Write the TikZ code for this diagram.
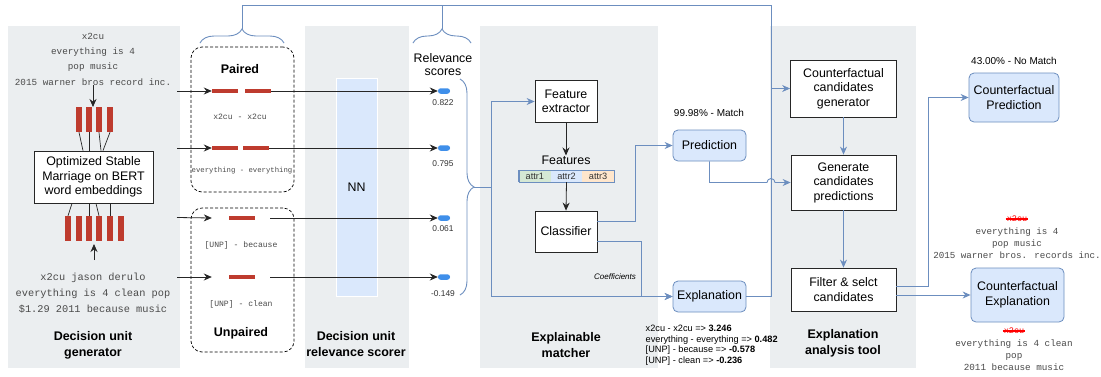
\documentclass[tikz,border=0pt]{standalone}
\usepackage{fontspec}
\setmainfont{Liberation Sans}
\newfontfamily\monof{Liberation Mono}
\usetikzlibrary{arrows.meta,decorations.pathreplacing}
\definecolor{panelgray}{HTML}{EBEEF0}
\definecolor{barred}{HTML}{BE3B2E}
\definecolor{lineblue}{HTML}{6C8EBF}
\definecolor{fillblue}{HTML}{DAE8FC}
\definecolor{pillblue}{HTML}{3F8FEA}
\definecolor{textgray}{HTML}{4A4A4A}
\definecolor{attrgreen}{HTML}{D5E8D4}
\definecolor{attrorange}{HTML}{FFE6CC}
\newcommand\myfs[2]{\fontsize{#1}{#2}\selectfont}
\begin{document}
\begin{tikzpicture}[x=1pt,y=-1pt,
  panel/.style={fill=panelgray,draw=none},
  whitebox/.style={draw=black!85,line width=0.8pt,fill=white,align=center,inner sep=0pt,font=\myfs{12.4}{14.5}},
  bluebox/.style={draw=lineblue,line width=0.8pt,fill=fillblue,rounded corners=5pt,align=center,inner sep=0pt,font=\myfs{12.4}{15}},
  vbar/.style={fill=barred,draw=none,minimum width=5.5pt,minimum height=25pt,inner sep=0pt},
  hbar/.style={fill=barred,draw=none,minimum width=26pt,minimum height=4.5pt,inner sep=0pt},
  pill/.style={fill=pillblue,draw=none,rounded corners=2.6pt,minimum width=12pt,minimum height=5.5pt,inner sep=0pt},
  monotxt/.style={font=\monof\myfs{9.3}{15.3},text=textgray,align=center,inner sep=0pt},
  smallmono/.style={font=\monof\myfs{8.1}{10},text=textgray,inner sep=0pt},
  scoretxt/.style={font=\myfs{8.4}{10},text=black!80,inner sep=0pt},
  paneltitle/.style={font=\bfseries\myfs{12.5}{16},align=center,inner sep=0pt},
  groupbox/.style={draw=black,dash pattern=on 3pt off 2pt,rounded corners=11pt,line width=0.7pt,inner sep=0pt,minimum width=103pt},
  karrow/.style={-{Stealth[length=8pt,width=7pt]},line width=0.8pt,draw=black!85},
  kline/.style={line width=0.7pt,draw=black!85},
  barrow/.style={-{Stealth[length=8pt,width=7pt]},line width=0.9pt,draw=lineblue},
  bline/.style={line width=0.9pt,draw=lineblue},
  bracestyle/.style={decorate,decoration={brace,amplitude=14pt},line width=0.9pt,draw=lineblue},
  attrcell/.style={minimum width=31.7pt,minimum height=12pt,inner sep=0pt,font=\myfs{9.2}{10},text=black!80},
]
\fill[white] (0,0) rectangle (1101,376);
\useasboundingbox (0,0) rectangle (1101,376);

% panels
\fill[panel] (8,26) rectangle (180,368);
\fill[panel] (305,26) rectangle (409,368);
\fill[panel] (480,26) rectangle (658,368);
\fill[panel] (770,26) rectangle (916,368);

% ---------- Decision unit generator ----------
\node[monotxt] (toptext) at (93,59) {x2cu\\everything is 4\\pop music\\2015 warner bros record inc.};
\node[monotxt,font=\monof\myfs{10.3}{16}] (bottext) at (93,293) {x2cu jason derulo\\everything is 4 clean pop\\\$1.29 2011 because music};
\node[paneltitle] (t1title) at (93,345) {Decision unit\\generator};

\node[vbar] (t1) at (79,119.5) {};
\node[vbar] (t2) at (89,119.5) {};
\node[vbar] (t3) at (99,119.5) {};
\node[vbar] (t4) at (110,119.5) {};
\node[vbar] (b1) at (68,228.5) {};
\node[vbar] (b2) at (79,228.5) {};
\node[vbar] (b3) at (89,228.5) {};
\node[vbar] (b4) at (99,228.5) {};
\node[vbar] (b5) at (110,228.5) {};
\node[vbar] (b6) at (121,228.5) {};

\node[whitebox,minimum width=119pt,minimum height=52pt] (osm) at (93.5,177) {Optimized Stable\\Marriage on BERT\\word embeddings};

\draw[kline] (t1.south) -- ([xshift=4pt]t1.south |- osm.north);
\draw[kline] (t2.south) -- (t2.south |- osm.north);
\draw[kline] (t3.south) -- ([xshift=2pt]t3.south |- osm.north);
\draw[kline] (t4.south) -- ([xshift=-7pt]t4.south |- osm.north);
\draw[kline] (b1.north) -- ([xshift=4pt]b1.north |- osm.south);
\draw[kline] (b3.north) -- (b3.north |- osm.south);
\draw[kline] (b4.north) -- ([xshift=-3pt]b4.north |- osm.south);
\draw[kline] (b5.north) -- (b5.north |- osm.south);

\coordinate (topin) at (93,107);
\coordinate (botin) at (94,244);
\draw[karrow] (toptext.south -| topin) -- (topin);
\draw[karrow] (94,260) coordinate (botsrc) -- (botin);

% ---------- Paired / Unpaired ----------
\node[groupbox,minimum height=145pt] (paired) at (242.5,119.5) {};
\node[groupbox,minimum height=144pt] (unpaired) at (242.5,280) {};
\node[paneltitle] (pairedt) at (240,69) {Paired};
\node[paneltitle] (unpairedt) at (241,333) {Unpaired};

\node[hbar] (p1a) at (225,91) {};
\node[hbar] (p1b) at (257.5,91) {};
\node[hbar] (p2a) at (225,148) {};
\node[hbar] (p2b) at (256,148) {};
\node[hbar] (u1) at (242,218) {};
\node[hbar] (u2) at (242,277) {};

\node[smallmono] (l1) at (240,117) {x2cu - x2cu};
\node[smallmono,font=\monof\myfs{7.3}{9}] (l2) at (242,171) {everything - everything};
\node[smallmono] (l3) at (241,245) {[UNP] - because};
\node[smallmono] (l4) at (241,304) {[UNP] - clean};

\coordinate (s1) at (177,91);
\coordinate (s2) at (177,148);
\coordinate (s3) at (177,217.5);
\coordinate (s4) at (177,277);
\draw[karrow] (s1) -- (p1a.west);
\draw[karrow] (s2) -- (p2a.west);
\draw[karrow] (s3) -- ([xshift=-17pt]u1.west);
\draw[karrow] (s4) -- ([xshift=-17pt]u2.west);

% ---------- Relevance scorer ----------
\node[fill=fillblue,draw=white,line width=1pt,minimum width=41pt,minimum height=218pt,inner sep=0pt] (nn) at (356.5,187) {};
\node[font=\myfs{12.4}{14},inner sep=0pt] (nnt) at (nn.center) {NN};
\node[paneltitle] (t2title) at (356,344) {Decision unit\\relevance scorer};

\node[pill] (r1) at (444,91) {};
\node[pill] (r2) at (444,148) {};
\node[pill] (r3) at (444,218) {};
\node[pill] (r4) at (444,277) {};
\node[scoretxt] (v1) at (443,103) {0.822};
\node[scoretxt] (v2) at (443,164) {0.795};
\node[scoretxt] (v3) at (443,229) {0.061};
\node[scoretxt] (v4) at (443,294) {-0.149};
\node[font=\myfs{12.4}{13.5},align=center,inner sep=0pt] (rs) at (443,64.5) {Relevance\\scores};

\draw[karrow] (p1b.east) -- (r1.west);
\draw[karrow] (p2b.east) -- (r2.west);
\draw[karrow] ([xshift=15pt]u1.east) -- (r3.west);
\draw[karrow] ([xshift=15pt]u2.east) -- (r4.west);

% ---------- braces and top line ----------
\draw[bracestyle] (200,43) -- (284,43);
\draw[bracestyle] (413,43) -- (471,43);
\draw[bracestyle] (460,79) -- (460,295);
\coordinate (vx) at (771,5);
\coordinate (b1tip) at (242,29);
\coordinate (b2tip) at (442,29);
\coordinate (b3tip) at (474,187);
\coordinate (jn) at (491,187);
\draw[bline] (b1tip) |- (vx);
\draw[bline] (b2tip) -- (b2tip |- vx);
\draw[bline] (b3tip) -- (jn);

% ---------- Explainable matcher ----------
\node[whitebox,minimum width=62pt,minimum height=42pt] (fe) at (566,101.5) {Feature\\extractor};
\node[font=\myfs{12.4}{14},inner sep=0pt] (feat) at (566,160) {Features};
\node[attrcell,fill=attrgreen] (a1) at (534.85,176) {attr1};
\node[attrcell,fill=fillblue] (a2) at (566.5,176) {attr2};
\node[attrcell,fill=attrorange] (a3) at (598.15,176) {attr3};
\draw[lineblue,line width=0.5pt] (a1.north west) rectangle (a3.south east);
\draw[lineblue,line width=1.5pt] (a1.north west) -- (a1.south west);
\node[whitebox,minimum width=62pt,minimum height=41pt] (clf) at (566,231.5) {Classifier};
\node[paneltitle] (t3title) at (566,345) {Explainable\\matcher};

\draw[karrow] (fe.south) -- (feat.north);
\draw[karrow] (a2.south) -- (clf.north);

\node[bluebox,minimum width=73pt,minimum height=31pt] (pred) at (709.5,145.5) {Prediction};
\node[bluebox,minimum width=73pt,minimum height=31pt] (expl) at (709.5,296.5) {Explanation};
\node[font=\myfs{10}{12},inner sep=0pt] (predt) at (709,113) {99.98\% - Match};
\node[font=\itshape\myfs{8}{10},inner sep=0pt] (coef) at (615,277) {Coefficients};
\node[font=\myfs{9.2}{10.6},align=left,anchor=north west,inner sep=0pt] (coefs) at (645.5,325) {x2cu - x2cu => \textbf{3.246}\\everything - everything => \textbf{0.482}\\{[UNP]} - because => \textbf{-0.578}\\{[UNP]} - clean => \textbf{-0.236}};

\draw[barrow] (jn) |- (fe.west);
\draw[barrow] (jn) |- (expl.west);
\draw[barrow] ([yshift=10pt]clf.east) -- ++(38,0) |- (pred.west);
\draw[barrow] ([yshift=-10pt]clf.east) -- ++(44,0) |- (expl.west);

% ---------- Explanation analysis tool ----------
\node[whitebox,minimum width=106pt,minimum height=57pt] (ccg) at (843.5,88.5) {Counterfactual\\candidates\\generator};
\node[whitebox,minimum width=105pt,minimum height=55pt] (gcp) at (843.5,182.5) {Generate\\candidates\\predictions};
\node[whitebox,minimum width=105pt,minimum height=43pt] (filt) at (843.5,289.5) {Filter \& selct\\candidates};
\node[paneltitle] (t4title) at (843,343) {Explanation\\analysis tool};

\draw[bline] (expl.east) -| (vx);
\draw[barrow] (ccg.west -| vx) -- (ccg.west);
\draw[barrow] (pred.south) -- (pred.south |- gcp.west) -- ([xshift=-4pt]gcp.west -| vx) arc[start angle=180,end angle=360,radius=4] -- (gcp.west);
\draw[barrow] (ccg.south) -- (gcp.north);
\draw[barrow] (gcp.south) -- (filt.north);

\node[bluebox,minimum width=90pt,minimum height=49pt] (cp) at (1014,97.5) {Counterfactual\\Prediction};
\node[bluebox,minimum width=93pt,minimum height=54pt] (ce) at (1017.5,295) {Counterfactual\\Explanation};
\node[font=\myfs{10}{12},inner sep=0pt] (cpt) at (1014,61) {43.00\% - No Match};

\draw[barrow] ([yshift=3.5pt]filt.east) -- ++(32,0) |- (cp.west);
\draw[barrow] (ce.west -| filt.east) -- (ce.west);

% counterfactual texts
\node[monotxt,text=red,font=\monof\myfs{8.5}{10}] (st1) at (1017,219) {x2cu};
\draw[red,line width=1.3pt] ([xshift=-1pt]st1.west) -- ([xshift=1pt]st1.east);
\node[monotxt,font=\monof\myfs{9.2}{12}] (cft1) at (1017,243.5) {everything is 4\\pop music\\2015 warner bros. records inc.};
\node[monotxt,text=red,font=\monof\myfs{8.5}{10}] (st2) at (1014,331) {x2cu};
\draw[red,line width=1.3pt] ([xshift=-1pt]st2.west) -- ([xshift=1pt]st2.east);
\node[monotxt,font=\monof\myfs{9.3}{12}] (cft2) at (1014,355.5) {everything is 4 clean\\pop\\2011 because music};
\end{tikzpicture}
\end{document}
